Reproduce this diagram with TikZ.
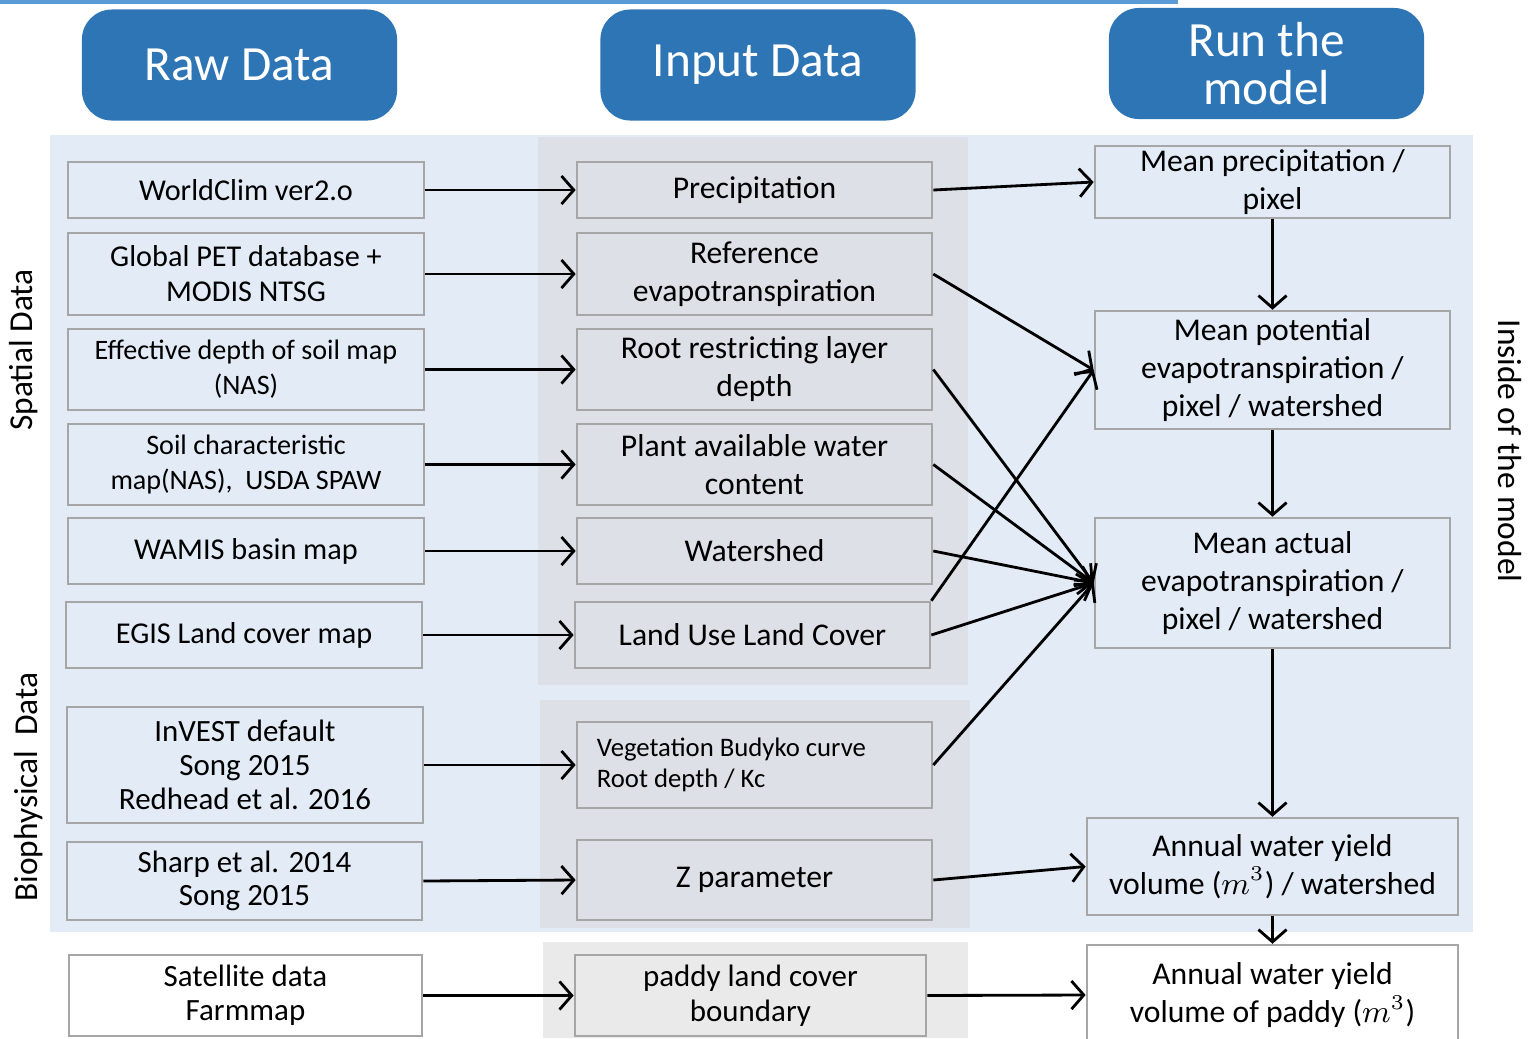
\documentclass[tikz,border=0pt]{standalone}
\usepackage{fontspec}
\setmainfont{Carlito}
\usepackage{tikz}
\usetikzlibrary{arrows.meta}
\definecolor{headblue}{HTML}{2E75B6}
\definecolor{panelblue}{HTML}{E2EBF6}
\definecolor{panelgray}{HTML}{DDE0E6}
\definecolor{paddygray}{HTML}{EAEAEA}
\definecolor{boxline}{HTML}{A6A6A6}
\definecolor{topline}{HTML}{5B9BD5}
\tikzset{
    every node/.style={align=center, inner sep=1pt,
    	font=\fontsize{9}{10.8}\selectfont}
}
\tikzset{
    head/.style={rounded corners=3mm, fill=headblue, text=white,
    	minimum width=3.15cm, minimum height=1.11cm,
    	font=\fontsize{14}{13.5}\selectfont},
    rawbox/.style={draw=boxline, line width=0.7pt, fill=panelblue,
    	font=\fontsize{8.6}{10}\selectfont},
    inbox/.style={draw=boxline, line width=0.7pt, fill=panelgray},
    runbox/.style={draw=boxline, line width=0.7pt, fill=panelblue},
    sidelabel/.style={font=\fontsize{9.5}{11}\selectfont}
}
\tikzset{
    every edge/.append style={line width=0.8pt,
    	-{Straight Barb[length=3.5pt,width=8pt]}}
}

\begin{document}
\begin{tikzpicture}[x=0.01cm, y=-0.01cm]
  \useasboundingbox (0,0) rectangle (1535,1038);
  % panels
  \fill[topline] (0,0) rectangle (1178,4);
  \fill[panelblue] (50,135) rectangle (1473,932);
  \fill[panelgray] (538,137) rectangle (968,685);
  \fill[panelgray] (540,700) rectangle (970,928);
  \fill[paddygray] (543,942) rectangle (968,1038);

  \node (rawhead) [head] at (239.5, 65) {Raw Data};
  \node (inhead) [head] at (758, 65) {Input Data};
  \node (runhead) [head] at (1266.5, 63.5) {Run the\\model};

  \node (spatial) [sidelabel, rotate=90] at (24, 350) {Spatial Data};
  \node (bio) [sidelabel, rotate=90] at (29, 787) {Biophysical~ Data};
  \node (inside) [sidelabel, rotate=-90] at (1510, 451) {Inside of the model};

  % raw data
  \node (raw1) [rawbox, minimum width=3.56cm, minimum height=0.56cm] at (246, 190) {WorldClim ver2.o};
  \node (raw2) [rawbox, minimum width=3.56cm, minimum height=0.82cm] at (246, 274) {Global PET database +\\MODIS NTSG};
  \node (raw3) [rawbox, minimum width=3.56cm, minimum height=0.81cm, font=\fontsize{8}{10}\selectfont] at (246, 369.5) {Effective depth of soil map\\(NAS)};
  \node (raw4) [rawbox, minimum width=3.56cm, minimum height=0.81cm, font=\fontsize{8}{10}\selectfont] at (246, 464.5) {Soil characteristic\\map(NAS), ~USDA SPAW};
  \node (raw5) [rawbox, minimum width=3.56cm, minimum height=0.66cm] at (246, 551) {WAMIS basin map};
  \node (raw6) [rawbox, minimum width=3.56cm, minimum height=0.66cm] at (244, 635) {EGIS Land cover map};
  \node (raw7) [rawbox, minimum width=3.56cm, minimum height=1.16cm, font=\fontsize{8.8}{9.6}\selectfont] at (245, 765) {InVEST default\\Song 2015\\Redhead et al. 2016};
  \node (raw8) [rawbox, minimum width=3.55cm, minimum height=0.78cm, font=\fontsize{8.8}{9.6}\selectfont] at (244.5, 881) {Sharp et al. 2014\\Song 2015};
  \node (raw9) [rawbox, fill=white, minimum width=3.53cm, minimum height=0.81cm, font=\fontsize{8.8}{9.6}\selectfont] at (245.5, 995.5) {Satellite data\\Farmmap};

  % input data
  \node (in1) [inbox, minimum width=3.55cm, minimum height=0.56cm] at (754.5, 190) {Precipitation};
  \node (in2) [inbox, minimum width=3.55cm, minimum height=0.82cm] at (754.5, 274) {Reference\\evapotranspiration};
  \node (in3) [inbox, minimum width=3.55cm, minimum height=0.81cm] at (754.5, 369.5) {Root restricting layer\\depth};
  \node (in4) [inbox, minimum width=3.55cm, minimum height=0.81cm] at (754.5, 464.5) {Plant available water\\content};
  \node (in5) [inbox, minimum width=3.55cm, minimum height=0.66cm] at (754.5, 551) {Watershed};
  \node (in6) [inbox, minimum width=3.55cm, minimum height=0.66cm] at (752.5, 635) {Land Use Land Cover};
  \node (in7) [inbox, align=flush left, text width=3.15cm, inner xsep=0.2cm, minimum height=0.86cm,
  	font=\fontsize{7.6}{8.8}\selectfont] at (754.5, 765) {Vegetation Budyko curve\\Root depth /~Kc};
  \node (in8) [inbox, minimum width=3.55cm, minimum height=0.80cm] at (754.5, 880) {Z parameter};
  \node (in9) [inbox, fill=paddygray, minimum width=3.51cm, minimum height=0.81cm,
  	font=\fontsize{8.8}{10}\selectfont] at (750.5, 995.5) {paddy land cover\\boundary};

  % run the model
  \node (run1) [runbox, minimum width=3.55cm, minimum height=0.70cm] at (1272.5, 182) {Mean precipitation /\\pixel};
  \node (run2) [runbox, minimum width=3.55cm, minimum height=1.18cm] at (1272.5, 370) {Mean potential\\evapotranspiration /\\pixel / watershed};
  \node (run3) [runbox, minimum width=3.55cm, minimum height=1.30cm] at (1272.5, 583) {Mean actual\\evapotranspiration /\\pixel / watershed};
  \node (run4) [runbox, minimum width=3.71cm, minimum height=0.97cm] at (1272.5, 866.5) {Annual water yield\\volume ($m^3$) / watershed};
  \node (run5) [runbox, fill=white, minimum width=3.71cm, minimum height=1.00cm] at (1272.5, 995) {Annual water yield\\volume of paddy ($m^3$)};

  \draw (raw1.east) edge (in1.west);
  \draw (raw2.east) edge (in2.west);
  \draw (raw3.east) edge (in3.west);
  \draw (raw4.east) edge (in4.west);
  \draw (raw5.east) edge (in5.west);
  \draw (raw6.east) edge (in6.west);
  \draw (raw7.east) edge (in7.west);
  \draw (raw8.east) edge (in8.west);
  \draw (raw9.east) edge (in9.west);
  \draw (in1.east) edge (run1.west);
  \draw (in2.east) edge (run2.west);
  \draw (in6.north east) edge (run2.west);
  \draw (in3.east) edge (run3.west);
  \draw (in4.east) edge (run3.west);
  \draw (in5.east) edge (run3.west);
  \draw (in6.east) edge (run3.west);
  \draw (in7.east) edge (run3.west);
  \draw (in8.east) edge (run4.west);
  \draw (in9.east) edge (run5.west);
  \draw (run1.south) edge (run2.north);
  \draw (run2.south) edge (run3.north);
  \draw (run3.south) edge (run4.north);
  \draw (run4.south) edge (run5.north);
\end{tikzpicture}
\end{document}
